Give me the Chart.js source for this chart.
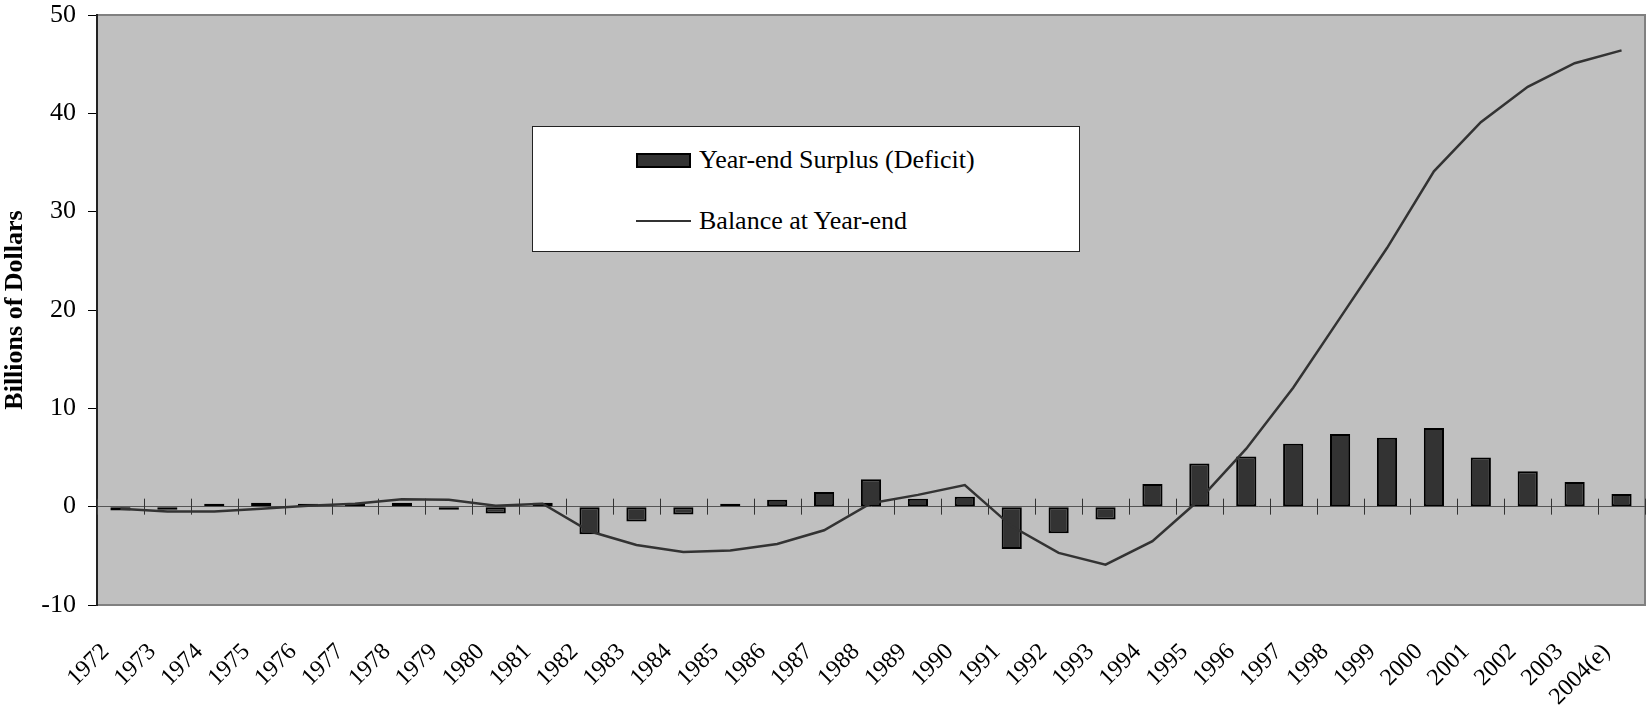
<!DOCTYPE html>
<html>
<head>
<meta charset="utf-8">
<title>Year-end Surplus (Deficit) and Balance</title>
<script src="https://cdn.jsdelivr.net/npm/chart.js"></script>
<style>
    body { margin: 0; background: #fff; }
    #wrap { position: relative; width: 1647px; height: 708px; }
    #legend_box {
        position: absolute; left: 532px; top: 126px; width: 546px; height: 124px;
        background: #fff; border: 1px solid #222;
        font-family: "Liberation Serif", "Times New Roman", serif; font-size: 26px; color: #000;
    }
    .legend_row { position: absolute; left: 103px; height: 30px; display: flex; align-items: center; white-space: nowrap; }
    .legend_bar { width: 51px; height: 11px; background: #333; border: 2px solid #000; margin-right: 8px; }
    .legend_line { width: 55px; height: 2.5px; background: #333; margin-right: 8px; }
</style>
</head>
<body>
<div id="wrap">
    <canvas id="myChart" width="1647" height="708"></canvas>
    <div id="legend_box"></div>
</div>
<script>
// category labels along the x axis
const years = ['1972', '1973', '1974', '1975', '1976', '1977', '1978', '1979', '1980', '1981',
    '1982', '1983', '1984', '1985', '1986', '1987', '1988', '1989', '1990', '1991',
    '1992', '1993', '1994', '1995', '1996', '1997', '1998', '1999', '2000', '2001',
    '2002', '2003', '2004(e)'];

// yearly surplus / deficit, billions of dollars (bars)
const surplus = [-0.4, -0.3, 0.1, 0.4, 0.3, 0.2, 0.4, -0.2, -0.7, 0.4,
    -2.8, -1.5, -0.8, 0.1, 0.7, 1.5, 2.8, 0.8, 1.0, -4.3,
    -2.7, -1.3, 2.3, 4.4, 5.1, 6.4, 7.4, 7.0, 8.0, 5.0,
    3.6, 2.5, 1.3];

// balance at year-end, billions of dollars (line)
const balance = [-0.2, -0.5, -0.5, -0.2, 0.1, 0.3, 0.75, 0.7, 0.1, 0.3,
    -2.5, -3.9, -4.6, -4.45, -3.8, -2.4, 0.35, 1.2, 2.2, -2.0,
    -4.7, -5.9, -3.5, 0.7, 5.9, 12.1, 19.2, 26.3, 34.1, 39.1,
    42.7, 45.1, 46.4];

// y axis range and tick step
const y_min = -10,
    y_max = 50,
    y_step = 10;

const surplus_label = 'Year-end Surplus (Deficit)',
    balance_label = 'Balance at Year-end',
    axis_title = 'Billions of Dollars';

const font_family = '"Liberation Serif", "Times New Roman", serif',
    plot_fill = '#c0c0c0',
    plot_border = '#808080';

// paints the grey plot area and its frame before the scales are drawn
const plotAreaBackground = {
    id: 'plotAreaBackground',
    beforeDraw(chart) {
        const { ctx, chartArea } = chart;
        ctx.save();
        ctx.fillStyle = plot_fill;
        ctx.fillRect(chartArea.left, chartArea.top, chartArea.width, chartArea.height);
        ctx.strokeStyle = plot_border;
        ctx.lineWidth = 2;
        ctx.strokeRect(chartArea.left, chartArea.top, chartArea.width, chartArea.height);
        ctx.restore();
    }
};

// short tick marks on the zero line between the categories
const zeroLineTicks = {
    id: 'zeroLineTicks',
    beforeDatasetsDraw(chart) {
        const { ctx, scales } = chart;
        const x = scales.x,
            y0 = scales.y.getPixelForValue(0),
            half = (x.getPixelForValue(1) - x.getPixelForValue(0)) / 2;
        ctx.save();
        ctx.strokeStyle = '#333';
        ctx.lineWidth = 1;
        ctx.beginPath();
        for (let i = 0; i <= years.length; i++) {
            const px = Math.round(x.getPixelForValue(i) - half) + 0.5;
            ctx.moveTo(px, y0 - 8);
            ctx.lineTo(px, y0 + 8);
        }
        ctx.stroke();
        ctx.restore();
    }
};

const ctx = document.getElementById('myChart').getContext('2d');

new Chart(ctx, {
    type: 'bar',
    data: {
        labels: years,
        datasets: [{
            type: 'line',
            label: balance_label,
            data: balance,
            borderColor: '#333',
            borderWidth: 2.5,
            pointRadius: 0,
            tension: 0,
            order: 0
        }, {
            label: surplus_label,
            data: surplus,
            backgroundColor: '#333',
            borderColor: '#000',
            borderWidth: 2,
            borderSkipped: false,
            minBarLength: 3,
            barPercentage: 0.43,
            categoryPercentage: 1,
            order: 1
        }]
    },
    options: {
        responsive: false,
        animation: false,
        devicePixelRatio: 1,
        layout: {
            padding: { top: 0, right: 2, left: 0, bottom: 0 }
        },
        plugins: {
            legend: { display: false },
            tooltip: { enabled: false }
        },
        scales: {
            x: {
                offset: true,
                grid: { display: false, drawTicks: false },
                border: { display: false },
                ticks: {
                    autoSkip: false,
                    minRotation: 45,
                    maxRotation: 45,
                    padding: 33,
                    labelOffset: -15,
                    color: '#000',
                    font: { family: font_family, size: 24 }
                },
                afterFit: (scale) => {
                    scale.height = 103;
                    scale.paddingLeft = 0;
                    scale.paddingRight = 0;
                }
            },
            y: {
                min: y_min,
                max: y_max,
                ticks: {
                    stepSize: y_step,
                    padding: 12,
                    color: '#000',
                    font: { family: font_family, size: 26 }
                },
                grid: {
                    drawOnChartArea: true,
                    color: (c) => (c.tick && c.tick.value === 0 ? '#555' : 'transparent'),
                    tickColor: '#000',
                    tickLength: 9,
                    lineWidth: 1
                },
                border: { display: true, color: '#222', width: 2 },
                title: {
                    display: true,
                    text: axis_title,
                    color: '#000',
                    padding: { top: 0, bottom: 0 },
                    font: { family: font_family, size: 26, weight: 'bold' }
                },
                afterFit: (scale) => {
                    scale.width = 97;
                    scale.paddingTop = 15;
                    scale.paddingBottom = 0;
                }
            }
        }
    },
    plugins: [plotAreaBackground, zeroLineTicks]
});

// legend box sitting inside the plot area
function buildLegend() {
    const box = document.getElementById('legend_box');
    box.innerHTML = `
        <div class="legend_row" style="top:18px"><div class="legend_bar"></div>${surplus_label}</div>
        <div class="legend_row" style="top:79px"><div class="legend_line"></div>${balance_label}</div>
    `;
}
buildLegend();
</script>
</body>
</html>
